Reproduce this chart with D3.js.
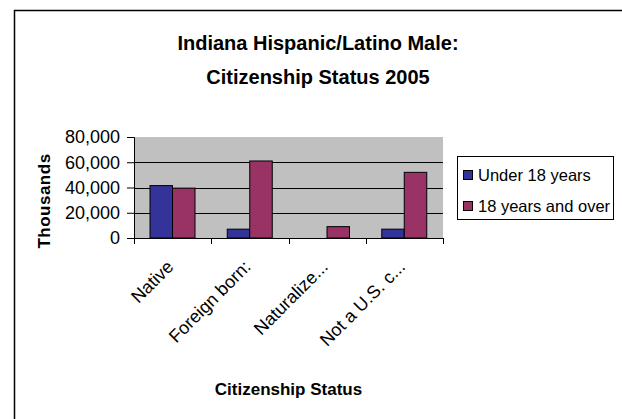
<!DOCTYPE html>
<html>
<head>
<meta charset="utf-8">
<script src="https://cdn.jsdelivr.net/npm/d3@7"></script>
<style>
  body { margin: 0; background: #fff; overflow: hidden; }
  svg { display: block; overflow: hidden; }
  text { font-family: Arial, "Liberation Sans", sans-serif; fill: #000; }
</style>
</head>
<body>
<svg id="chart" width="622" height="419"></svg>
<script>
// chart data
var categories = ["Native", "Foreign born", "Naturalized", "Not a U.S. citizen"];
var categoryLabels = ["Native", "Foreign born:", "Naturalize...", "Not a U.S. c..."];
var seriesNames = ["Under 18 years", "18 years and over"];
var under18 = [41500, 7000, 0, 7000];
var over18 = [39500, 61000, 9000, 52000];
var yTicks = [0, 20000, 40000, 60000, 80000];

var colors = ["#333399", "#993366"];

// set the dimensions of the plot area
var plot = {left: 134, right: 443, top: 137, bottom: 238};

var svg = d3.select("#chart");

// outer chart frame (only top and left edges are in view)
svg.append("path")
    .attr("d", "M14.5,419V10.5H622")
    .attr("fill", "none")
    .attr("stroke", "#000")
    .attr("stroke-width", 1.5);

// title
svg.append("text")
    .attr("x", 318).attr("y", 50)
    .attr("text-anchor", "middle")
    .style("font-size", "20px").style("font-weight", "bold")
    .text("Indiana Hispanic/Latino Male:");
svg.append("text")
    .attr("x", 318).attr("y", 84)
    .attr("text-anchor", "middle")
    .style("font-size", "20px").style("font-weight", "bold")
    .text("Citizenship Status 2005");

// scales
var x0 = d3.scaleBand().domain(categories).range([plot.left, plot.right]).padding(0);
var x1 = d3.scaleBand().domain(seriesNames).range([16, 61]).padding(0);
var y = d3.scaleLinear().domain([0, 80000]).range([plot.bottom, plot.top]);

// plot background
svg.append("rect")
    .attr("x", plot.left).attr("y", plot.top)
    .attr("width", plot.right - plot.left).attr("height", plot.bottom - plot.top)
    .attr("fill", "#c0c0c0");

// gridlines
svg.append("g")
  .selectAll("line")
  .data(yTicks.filter(function(d) { return d > 0 && d < 80000; }))
  .enter().append("line")
    .attr("x1", plot.left).attr("x2", plot.right)
    .attr("y1", function(d) { return Math.round(y(d)) + 0.5; })
    .attr("y2", function(d) { return Math.round(y(d)) + 0.5; })
    .attr("stroke", "#000");

// bars
var rows = categories.map(function(c, i) {
  return [{cat: c, s: seriesNames[0], v: under18[i], k: 0},
          {cat: c, s: seriesNames[1], v: over18[i], k: 1}];
});
svg.append("g")
  .selectAll("g")
  .data(rows)
  .enter().append("g")
    .attr("transform", function(d) { return "translate(" + x0(d[0].cat) + ",0)"; })
  .selectAll("rect")
  .data(function(d) { return d.filter(function(e) { return e.v > 0; }); })
  .enter().append("rect")
    .attr("x", function(d) { return x1(d.s); })
    .attr("y", function(d) { return y(d.v); })
    .attr("width", x1.bandwidth())
    .attr("height", function(d) { return y(0) - y(d.v); })
    .attr("fill", function(d) { return colors[d.k]; })
    .attr("stroke", "#000")
    .attr("stroke-width", 1);

// Y axis
var yAxis = svg.append("g")
    .attr("transform", "translate(" + plot.left + ",0)")
    .call(d3.axisLeft(y).tickValues(yTicks).tickSize(7).tickPadding(7)
      .tickFormat(d3.format(",")));
yAxis.select(".domain").attr("stroke", "#000");
yAxis.selectAll("text").style("font-size", "18px").style("font-family", "Arial, 'Liberation Sans', sans-serif");

// X axis
var xAxis = svg.append("g")
    .attr("transform", "translate(0," + plot.bottom + ")");
xAxis.append("line")
    .attr("x1", plot.left - 7).attr("x2", plot.right)
    .attr("y1", 0.5).attr("y2", 0.5)
    .attr("stroke", "#000");
xAxis.selectAll(".tick")
  .data(categories.concat(["end"]))
  .enter().append("line")
    .attr("x1", function(d, i) { return Math.round(plot.left + i * x0.bandwidth()) + 0.5; })
    .attr("x2", function(d, i) { return Math.round(plot.left + i * x0.bandwidth()) + 0.5; })
    .attr("y1", 0).attr("y2", 6)
    .attr("stroke", "#000");

// category labels, rotated
svg.append("g")
  .selectAll("text")
  .data(categories)
  .enter().append("text")
    .attr("transform", function(d) {
      return "translate(" + (x0(d) + x0.bandwidth() / 2 + 2) + "," + 268 + ") rotate(-45)";
    })
    .attr("text-anchor", "end")
    .style("font-size", "18px")
    .text(function(d, i) { return categoryLabels[i]; });

// axis titles
svg.append("text")
    .attr("x", (plot.left + plot.right) / 2).attr("y", 395)
    .attr("text-anchor", "middle")
    .style("font-size", "17px").style("font-weight", "bold")
    .text("Citizenship Status");

svg.append("text")
    .attr("transform", "translate(50,201) rotate(-90)")
    .attr("text-anchor", "middle")
    .style("font-size", "17px").style("font-weight", "bold")
    .style("letter-spacing", "0.5px")
    .text("Thousands");

// legend
var legend = svg.append("g");
legend.append("rect")
    .attr("x", 457.5).attr("y", 156.5)
    .attr("width", 156).attr("height", 63)
    .attr("fill", "#fff").attr("stroke", "#000");

var item = legend.selectAll(".legend")
    .data(seriesNames)
  .enter().append("g")
    .attr("class", "legend")
    .attr("transform", function(d, i) { return "translate(0," + i * 31 + ")"; });

item.append("rect")
    .attr("x", 463.5).attr("y", 170.5)
    .attr("width", 9).attr("height", 9)
    .attr("fill", function(d, i) { return colors[i]; })
    .attr("stroke", "#000");

item.append("text")
    .attr("x", 478).attr("y", 181)
    .style("font-size", "16.5px")
    .text(function(d) { return d; });
</script>
</body>
</html>
